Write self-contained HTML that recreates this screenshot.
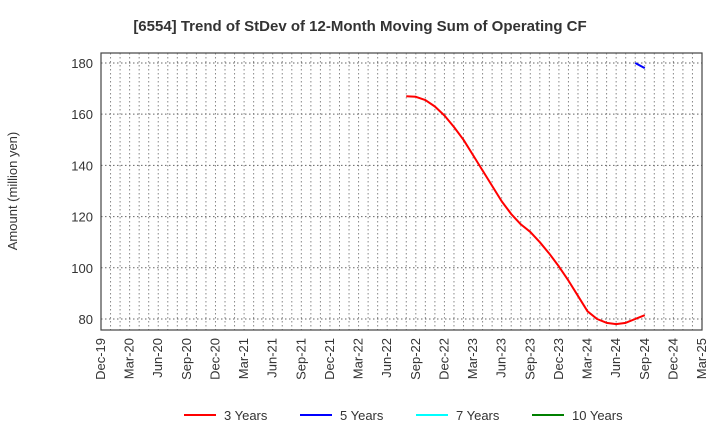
<!DOCTYPE html>
<html><head><meta charset="utf-8"><style>
body{margin:0;background:#fff;font-family:"Liberation Sans",sans-serif}
</style></head><body>
<svg id="c" width="720" height="440" xmlns="http://www.w3.org/2000/svg">
<text x="360" y="31" text-anchor="middle" font-size="15" font-weight="bold" fill="#333">[6554]  Trend of StDev of 12-Month Moving Sum of Operating CF</text>
<text transform="translate(17,191) rotate(-90)" text-anchor="middle" font-size="13" fill="#333">Amount (million yen)</text>
<g id="grid"></g><g id="axes"></g><g id="series"></g><g id="legend"></g>
</svg>
<script>
const xLabels=["Dec-19","Mar-20","Jun-20","Sep-20","Dec-20","Mar-21","Jun-21","Sep-21","Dec-21","Mar-22","Jun-22","Sep-22","Dec-22","Mar-23","Jun-23","Sep-23","Dec-23","Mar-24","Jun-24","Sep-24","Dec-24","Mar-25"];
const yTicks=[80,100,120,140,160,180];
const s3Start=32; // month index from Dec-19 (Aug-22)
const s3Values=[167,166.8,165.5,163,159.5,155,150,144,138,132,126,121,117,114,110,105.5,100.5,95,89,83,80,78.5,78,78.5,80,81.5];
const s5Start=56; // Aug-24
const s5Values=[180,178];
const L=101,R=702,T=53,B=330,yMin=75.7,yMax=183.9,months=63;
const ns="http://www.w3.org/2000/svg";
const X=m=>L+(R-L)*m/months;
const Y=v=>B-(B-T)*(v-yMin)/(yMax-yMin);
function mk(t,a,p){const e=document.createElementNS(ns,t);for(const k in a)e.setAttribute(k,a[k]);p.appendChild(e);return e;}
const g=document.getElementById('grid'),ax=document.getElementById('axes'),se=document.getElementById('series'),lg=document.getElementById('legend');
for(let m=1;m<months;m++){const l=mk('line',{x1:X(m),x2:X(m),y1:T,y2:B,stroke:'#888','stroke-dasharray':'1.5,2.5','stroke-width':1},g);

}
yTicks.forEach(v=>{const l=mk('line',{x1:L,x2:R,y1:Y(v),y2:Y(v),stroke:'#666','stroke-dasharray':'1.5,2.5','stroke-width':1},g);


const t=mk('text',{x:L-8,y:Y(v)+5,'text-anchor':'end','font-size':13,fill:'#333'},ax);t.textContent=v;

});
const fr=mk('rect',{x:L,y:T,width:R-L,height:B-T,fill:'none',stroke:'#444','stroke-width':1.2},ax);


xLabels.forEach((s,i)=>{const x=X(i*3);const t=mk('text',{transform:`translate(${x+4},${B+8}) rotate(-90)`,'text-anchor':'end','font-size':13,fill:'#333'},ax);t.textContent=s;

});
function line(start,vals,col,name){const p=mk('polyline',{points:vals.map((v,i)=>X(start+i)+','+Y(v)).join(' '),fill:'none',stroke:col,'stroke-width':2,'stroke-linejoin':'round'},se);

}
line(s3Start,s3Values,'#ff0000','series-3-years');
line(s5Start,s5Values,'#0000ff','series-5-years');
const leg=[["3 Years","#ff0000",184],["5 Years","#0000ff",300],["7 Years","#00ffff",416],["10 Years","#008000",532]];
leg.forEach(([n,c,x])=>{const gg=mk('g',{},lg);


mk('line',{x1:x,x2:x+32,y1:415,y2:415,stroke:c,'stroke-width':2},gg);
const t=mk('text',{x:x+40,y:420,'font-size':13,fill:'#333'},gg);t.textContent=n;});
</script>
</body></html>
